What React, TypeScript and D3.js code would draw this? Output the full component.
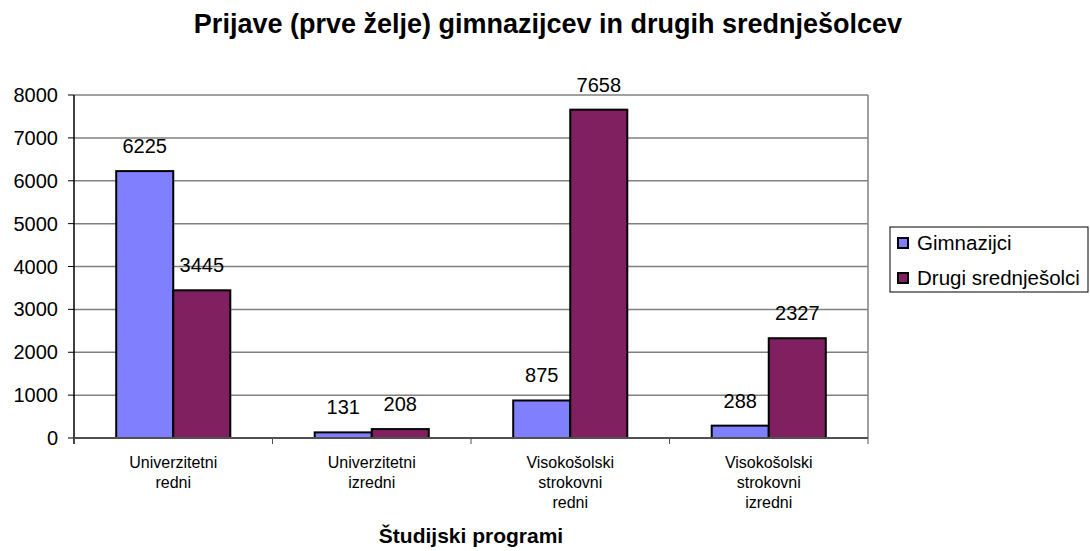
import React from "react";
import * as d3 from "d3";

const categories = [
  ["Univerzitetni", "redni"],
  ["Univerzitetni", "izredni"],
  ["Visokošolski", "strokovni", "redni"],
  ["Visokošolski", "strokovni", "izredni"],
];
const seriesNames = ["Gimnazijci", "Drugi srednješolci"];
const gimnazijci = [6225, 131, 875, 288];
const drugi = [3445, 208, 7658, 2327];
const yTicks = [0, 1000, 2000, 3000, 4000, 5000, 6000, 7000, 8000];
const colors = ["#8080FF", "#802060"];

const font = "'Liberation Sans', Arial, sans-serif";

const App = () => {
  const width = 1090;
  const height = 551;
  const margin = { left: 74, right: 868, top: 95, bottom: 438 };

  const x = d3
    .scaleBand<number>()
    .domain(d3.range(categories.length))
    .range([margin.left, margin.right])
    .paddingInner(0)
    .paddingOuter(0);
  const inner = d3
    .scaleBand<number>()
    .domain([0, 1])
    .range([0, x.bandwidth()])
    .paddingOuter(0.74)
    .paddingInner(0);
  const y = d3.scaleLinear().domain([0, 8000]).range([margin.bottom, margin.top]);

  const series = [gimnazijci, drugi];

  return (
    <svg
      width={width}
      height={height}
      style={{ position: "absolute", left: 0, top: 0, background: "#fff" }}
      fontFamily={font}
    >
      <text x={548} y={33} textAnchor="middle" fontSize={27} fontWeight="bold" fill="#000">
        Prijave (prve želje) gimnazijcev in drugih srednješolcev
      </text>

      {/* grid */}
      {yTicks.map((t) => (
        <g key={t}>
          {t > 0 && (
            <line
              x1={margin.left}
              x2={margin.right}
              y1={y(t)}
              y2={y(t)}
              stroke="#808080"
              strokeWidth={1.5}
            />
          )}
          <line x1={margin.left - 6} x2={margin.left} y1={y(t)} y2={y(t)} stroke="#000" strokeWidth={1} />
          <text x={58} y={y(t) + 7} textAnchor="end" fontSize={20} fill="#000">
            {t}
          </text>
        </g>
      ))}
      <line x1={margin.right} x2={margin.right} y1={margin.top} y2={margin.bottom} stroke="#808080" strokeWidth={1.5} />

      {/* bars */}
      {categories.map((c, i) => (
        <g key={i}>
          {series.map((s, j) => {
            const bx = (x(i) as number) + (inner(j) as number);
            return (
              <g key={j}>
                <rect
                  x={bx}
                  y={y(s[i])}
                  width={inner.bandwidth()}
                  height={margin.bottom - y(s[i])}
                  fill={colors[j]}
                  stroke="#000"
                  strokeWidth={2}
                />
                <text
                  x={bx + inner.bandwidth() / 2}
                  y={y(s[i]) - 18}
                  textAnchor="middle"
                  fontSize={20}
                  fill="#000"
                >
                  {s[i]}
                </text>
              </g>
            );
          })}
          <text textAnchor="middle" fontSize={16} fill="#000">
            {c.map((line, k) => (
              <tspan key={k} x={(x(i) as number) + x.bandwidth() / 2} y={468 + k * 20}>
                {line}
              </tspan>
            ))}
          </text>
        </g>
      ))}

      {/* axes */}
      <line x1={margin.left} x2={margin.left} y1={margin.top} y2={margin.bottom + 6} stroke="#000" strokeWidth={1.5} />
      <line x1={margin.left} x2={margin.right} y1={margin.bottom} y2={margin.bottom} stroke="#505050" strokeWidth={2} />
      {d3.range(categories.length + 1).map((i) => {
        const px = margin.left + i * x.step();
        return <line key={i} x1={px} x2={px} y1={margin.bottom} y2={margin.bottom + 6} stroke="#505050" strokeWidth={1} />;
      })}

      <text x={(margin.left + margin.right) / 2} y={543} textAnchor="middle" fontSize={21} fontWeight="bold" fill="#000">
        Študijski programi
      </text>

      {/* legend */}
      <rect x={890} y={227} width={198} height={65} fill="#fff" stroke="#000" strokeWidth={1} />
      {seriesNames.map((n, j) => (
        <g key={n}>
          <rect x={898} y={238 + j * 35} width={10} height={10} fill={colors[j]} stroke="#000" strokeWidth={2} />
          <text x={917} y={250 + j * 35} fontSize={20.5} fill="#000">
            {n}
          </text>
        </g>
      ))}
    </svg>
  );
};

export default App;
